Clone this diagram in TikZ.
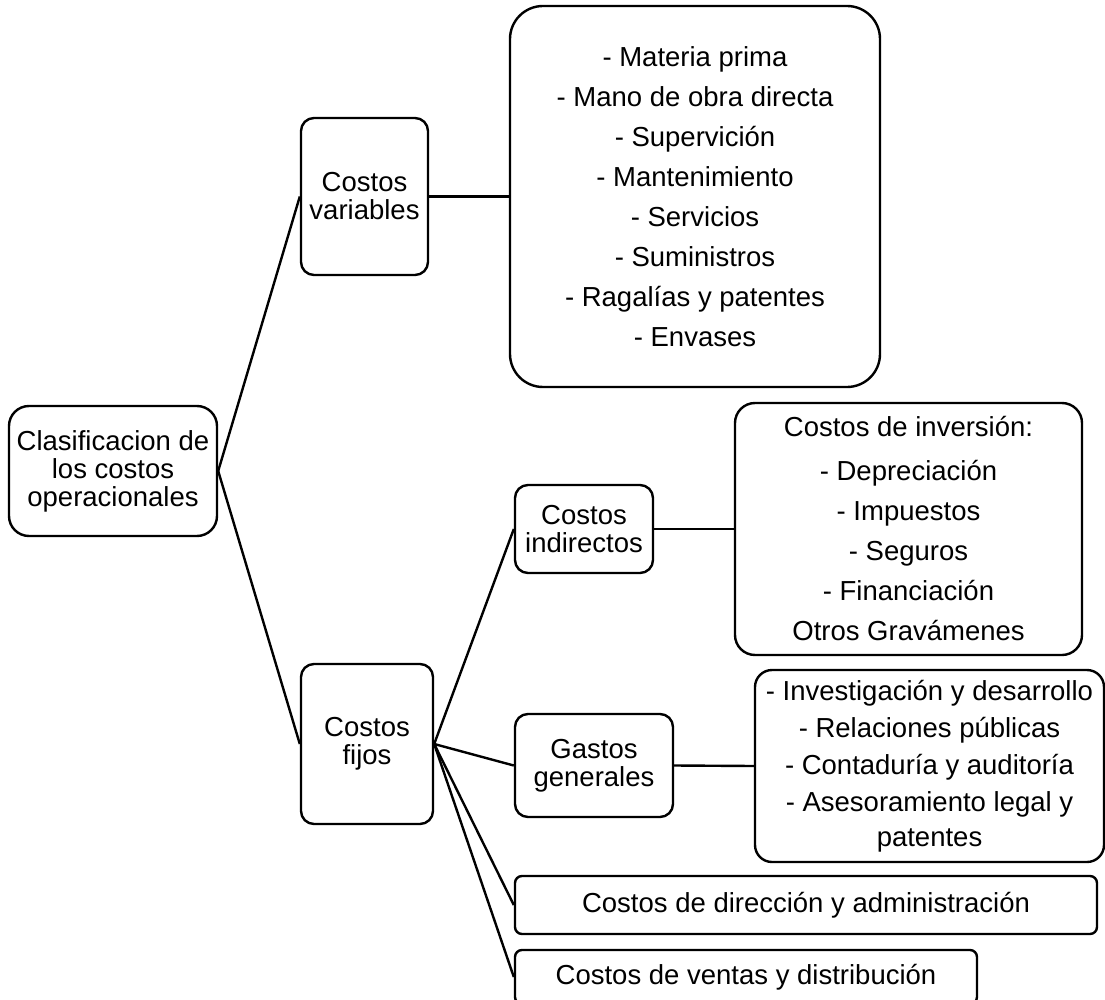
\documentclass[tikz,border=0pt]{standalone}
\usepackage{fontspec}
\setmainfont{Liberation Sans}
\begin{document}
\begin{tikzpicture}[x=1pt,y=-1pt,
  box/.style={draw=black, line width=2.4pt, rounded corners=#1, inner sep=0pt, align=center,
    font=\fontsize{27.5}{28}\selectfont, fill=white},
  box/.default=13pt,
  conn/.style={line width=2.4pt, black}]
\useasboundingbox[fill=white] (0,0) rectangle (1105,1000);

\node[box=20pt, minimum width=208pt, minimum height=130pt] (root) at (113,471)
  {Clasificacion de\\los costos\\operacionales};
\node[box, minimum width=127pt, minimum height=157pt] (var) at (364.5,196.5)
  {Costos\\variables};
\node[box=33pt, minimum width=370pt, minimum height=381pt] (varlist) at (695,196.5)
  {- Materia prima\\[12pt]- Mano de obra directa\\[12pt]- Supervición\\[12pt]- Mantenimiento\\[12pt]- Servicios\\[12pt]- Suministros\\[12pt]- Ragalías y patentes\\[12pt]- Envases};
\node[box, minimum width=132pt, minimum height=160pt] (fijos) at (367,744)
  {Costos\\fijos};
\node[box, minimum width=138pt, minimum height=88pt] (ind) at (584,529)
  {Costos\\indirectos};
\node[box=20pt, minimum width=347pt, minimum height=252pt] (inv) at (908.5,529)
  {Costos de inversión:\\[16pt]- Depreciación\\[12pt]- Impuestos\\[12pt]- Seguros\\[12pt]- Financiación\\[12pt]Otros Gravámenes};
\node[box, minimum width=158pt, minimum height=103pt] (gas) at (594,765.5)
  {Gastos\\generales};
\node[box=17pt, minimum width=349pt, minimum height=192pt] (gaslist) at (929.5,766)
  {- Investigación y desarrollo\\[9pt]- Relaciones públicas\\[9pt]- Contaduría y auditoría\\[9pt]- Asesoramiento legal y\\[7pt]patentes};
\node[box=7pt, minimum width=582pt, minimum height=58pt] (dir) at (806,905)
  {Costos de dirección y administración};
\node[box=7pt, minimum width=462pt, minimum height=54pt] (ven) at (746,977)
  {Costos de ventas y distribución};

\draw[conn] (root.east) -- (var.west);
\draw[conn] (root.east) -- (fijos.west);
\draw[conn] (var.east) -- (varlist.west);
\draw[conn] (fijos.east) -- (ind.west);
\draw[conn] (fijos.east) -- (gas.west);
\draw[conn] (fijos.east) -- (dir.west);
\draw[conn] (fijos.east) -- (ven.west);
\draw[conn] (ind.east) -- (inv.west);
\draw[conn] (gas.east) -- (gaslist.west);
\end{tikzpicture}
\end{document}
